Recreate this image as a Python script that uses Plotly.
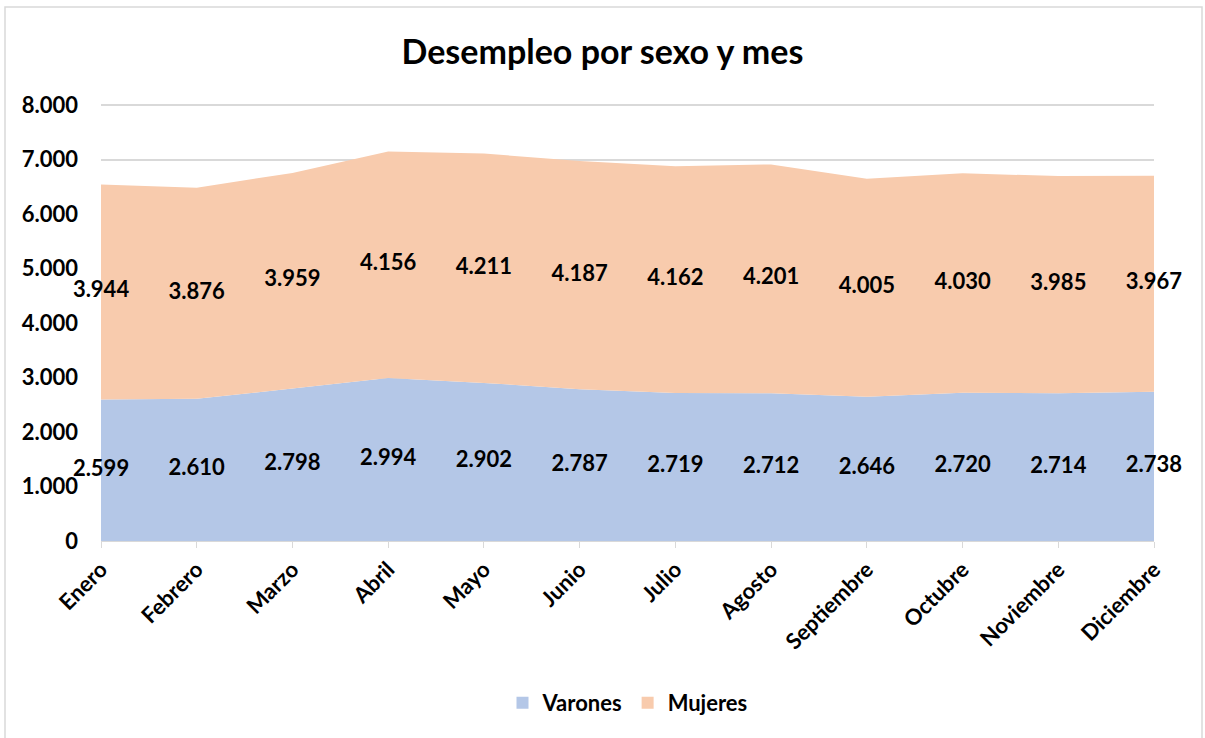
import plotly.graph_objects as go

meses = ["Enero", "Febrero", "Marzo", "Abril", "Mayo", "Junio", "Julio",
         "Agosto", "Septiembre", "Octubre", "Noviembre", "Diciembre"]
varones = [2599, 2610, 2798, 2994, 2902, 2787, 2719, 2712, 2646, 2720, 2714, 2738]
mujeres = [3944, 3876, 3959, 4156, 4211, 4187, 4162, 4201, 4005, 4030, 3985, 3967]

FONT = "Lato"
AZUL = "#B4C7E7"
NARANJA = "#F8CBAD"

def fmt(v):
    return f"{v:,}".replace(",", ".")

fig = go.Figure()
fig.add_trace(go.Scatter(x=meses, y=varones, name="Varones", stackgroup="one",
                         mode="none", fillcolor=AZUL, hoverinfo="skip", showlegend=False))
fig.add_trace(go.Scatter(x=meses, y=mujeres, name="Mujeres", stackgroup="one",
                         mode="none", fillcolor=NARANJA, hoverinfo="skip", showlegend=False))

# legend entries with square swatches
for nombre, color in [("Varones", AZUL), ("Mujeres", NARANJA)]:
    fig.add_trace(go.Scatter(x=[None], y=[None], mode="markers", name=nombre,
                             marker=dict(symbol="square", size=14, color=color)))

lab_font = dict(family=FONT, size=22, color="black", weight="bold")
fig.add_trace(go.Scatter(x=meses, y=[v / 2 for v in varones], mode="text",
                         text=[fmt(v) for v in varones], showlegend=False,
                         textfont=lab_font, cliponaxis=False, hoverinfo="skip"))
fig.add_trace(go.Scatter(x=meses, y=[v + m / 2 for v, m in zip(varones, mujeres)], mode="text",
                         text=[fmt(m) for m in mujeres], showlegend=False,
                         textfont=lab_font, cliponaxis=False, hoverinfo="skip"))

fig.update_layout(
    width=1205, height=738,
    margin=dict(l=101, r=51, t=103, b=197),
    paper_bgcolor="white", plot_bgcolor="white",
    separators=",.",
    title=dict(text="Desempleo por sexo y mes", x=0.5, xanchor="center",
               y=1 - 52 / 738, yanchor="middle",
               font=dict(family=FONT, size=34, color="black", weight="bold")),
    legend=dict(orientation="h", x=0.5, xanchor="center", y=-0.37, yanchor="middle",
                font=dict(family=FONT, size=22, color="black", weight="bold"),
                traceorder="normal", itemsizing="constant"),
    showlegend=True,
)
fig.update_xaxes(type="category", range=[0, len(meses) - 1], tickangle=-45,
                 tickfont=dict(family=FONT, size=22, color="black", weight="bold"),
                 showline=True, linecolor="#D9D9D9", linewidth=1,
                 ticks="outside", tickcolor="#D9D9D9", ticklen=6,
                 showgrid=False, zeroline=False)
fig.update_yaxes(range=[0, 8040], tickvals=[0, 1000, 2000, 3000, 4000, 5000, 6000, 7000, 8000],
                 tickformat=",d",
                 tickfont=dict(family=FONT, size=22, color="black", weight="bold"),
                 showgrid=True, gridcolor="#D9D9D9", gridwidth=1.5,
                 zeroline=False, ticks="", ticklabelstandoff=22)

# outer chart border
fig.add_shape(type="rect", xref="paper", yref="paper",
              x0=(5 - 101) / 1053, x1=(1202 - 101) / 1053,
              y0=(541 - 760) / 438, y1=(541 - 7) / 438,
              line=dict(color="#D9D9D9", width=1.5), fillcolor="rgba(0,0,0,0)", layer="below")

fig.write_html("out.html", config={"displayModeBar": False},
               post_script="document.body.style.margin='0';")
